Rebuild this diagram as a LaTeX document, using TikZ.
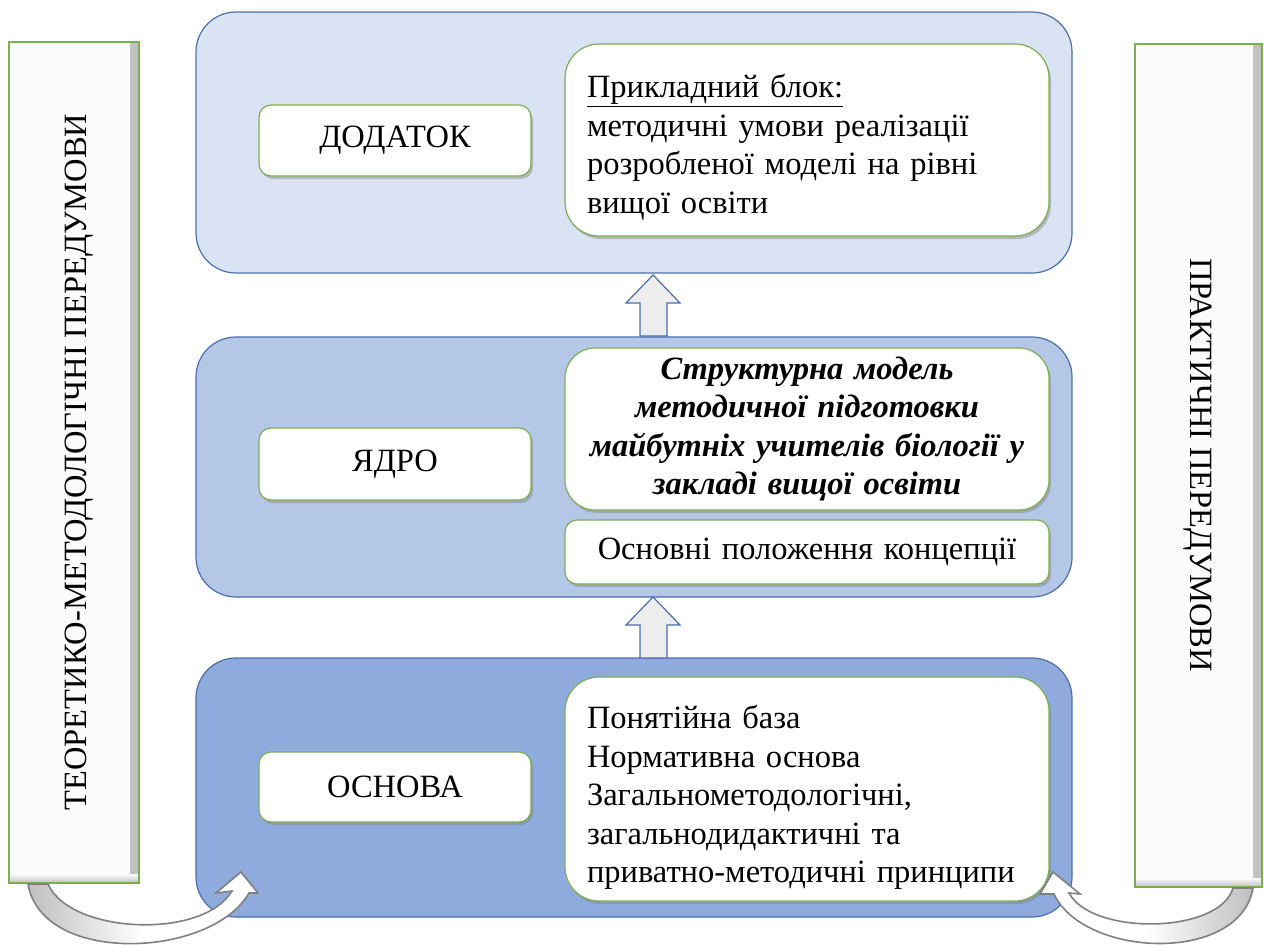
\documentclass[tikz,border=0pt]{standalone}
\usepackage{fontspec}
\setmainfont{Liberation Serif}
\usetikzlibrary{shadows}
\definecolor{panelA}{HTML}{DAE3F3}
\definecolor{panelB}{HTML}{B4C7E7}
\definecolor{panelC}{HTML}{8FAADC}
\definecolor{panelLine}{HTML}{4A6FAE}
\definecolor{boxLine}{HTML}{7AB04F}
\definecolor{arrowFill}{HTML}{EDEDED}
\definecolor{bendLine}{HTML}{808080}
\newcommand{\bodyfont}{\fontsize{32.5}{38.5}\selectfont}
\begin{document}
\begin{tikzpicture}[x=1pt,y=-1pt,
  panel/.style={draw=panelLine, line width=1.2pt, rounded corners=40pt,
    minimum width=876pt, inner sep=0pt},
  softshadow/.style={drop shadow={opacity=0.45, shadow xshift=2pt, shadow yshift=-3pt}},
  labelbox/.style={draw=boxLine, line width=1.2pt, fill=white, rounded corners=12pt,
    minimum width=272pt, inner sep=0pt, font=\bodyfont, softshadow},
  infobox/.style={draw=boxLine, line width=1.2pt, fill=white, rounded corners=34pt,
    minimum width=484pt, text width=440pt, inner xsep=22pt, inner ysep=0pt,
    align=left, font=\bodyfont, softshadow},
  sidebox/.style={draw=boxLine, line width=1.2pt, fill=gray!3, inner sep=0pt,
    path picture={
      \shade[left color=gray!3, right color=gray!50]
        ([xshift=-9pt]path picture bounding box.north east) rectangle (path picture bounding box.south east);
      \shade[top color=gray!3, bottom color=gray!50]
        ([yshift=9pt]path picture bounding box.south west) rectangle (path picture bounding box.south east);
    }},
  sidetext/.style={font=\bodyfont, inner sep=0pt},
  uparrow/.style={draw=panelLine, line width=1.2pt, fill=arrowFill, line join=miter},
  bendarrow/.style={draw=bendLine, line width=1.6pt, line join=miter},
]
\useasboundingbox (0,0) rectangle (1264,945);

% three stacked layers
\node[panel, fill=panelA, minimum height=261pt] (toppanel) at (634,142.5) {};
\node[panel, fill=panelB, minimum height=260pt] (midpanel) at (634,467) {};
\node[panel, fill=panelC, minimum height=259pt] (botpanel) at (634,787.5) {};

% layer names
\node[labelbox, minimum height=71pt] (dodatok) at (395,140.5) {ДОДАТОК};
\node[labelbox, minimum height=72pt] (yadro) at (395,464) {ЯДРО};
\node[labelbox, minimum height=70pt] (osnova) at (395,787) {ОСНОВА};

% layer contents
\node[infobox, minimum height=192pt] (applied) at (807,140) {\rule{0pt}{38pt}\underline{Прикладний блок:}\\
методичні умови реалізації\\
розробленої моделі на рівні\\
вищої освіти};
\node[infobox, minimum height=162pt, align=center, rounded corners=30pt] (model) at (807,429)
  {\bfseries\itshape Структурна модель\\
  методичної підготовки\\
  майбутніх учителів біології у\\
  закладі вищої освіти};
\node[infobox, minimum height=64pt, align=center, rounded corners=12pt] (concept) at (807,552)
  {Основні положення концепції};
\node[infobox, minimum height=224pt, rounded corners=34pt] (base) at (807,789) {\rule{0pt}{40pt}Понятійна база\\
Нормативна основа\\
Загальнометодологічні,\\
загальнодидактичні та\\
приватно-методичні принципи};

% side columns
\node[sidebox, minimum width=130pt, minimum height=841pt] (leftcol) at (74,462.5) {};
\node[sidebox, minimum width=127pt, minimum height=843pt] (rightcol) at (1198.5,465.5) {};
\node[sidetext, rotate=90] (lefttext) at (79,462) {ТЕОРЕТИКО-МЕТОДОЛОГІЧНІ ПЕРЕДУМОВИ};
\node[sidetext, rotate=-90] (righttext) at (1198,465) {ПРАКТИЧНІ ПЕРЕДУМОВИ};

% block arrows between the layers
\draw[uparrow] (653,275) -- (680,303) -- (667,303) -- (667,336) -- (640,336)
  -- (640,303) -- (626,303) -- cycle;
\draw[uparrow] (653,597) -- (680,625) -- (667,625) -- (667,658) -- (640,658)
  -- (640,625) -- (626,625) -- cycle;

% curved arrows from the side columns into the base layer
\draw[bendarrow, left color=gray!50, right color=white, middle color=white]
  (28,884) .. controls (42,966) and (212,958) .. (249,893)
  -- (258,893) -- (241,872) -- (216,893) -- (232,891)
  .. controls (203,940) and (70,934) .. (48,884) -- cycle;
\draw[bendarrow, right color=gray!50, left color=white, middle color=white]
  (1253,888) .. controls (1240,964) and (1084,958) .. (1054,894)
  -- (1040,894) -- (1053,872) -- (1080,894) -- (1069,893)
  .. controls (1092,936) and (1220,934) .. (1233,888) -- cycle;
\end{tikzpicture}
\end{document}
